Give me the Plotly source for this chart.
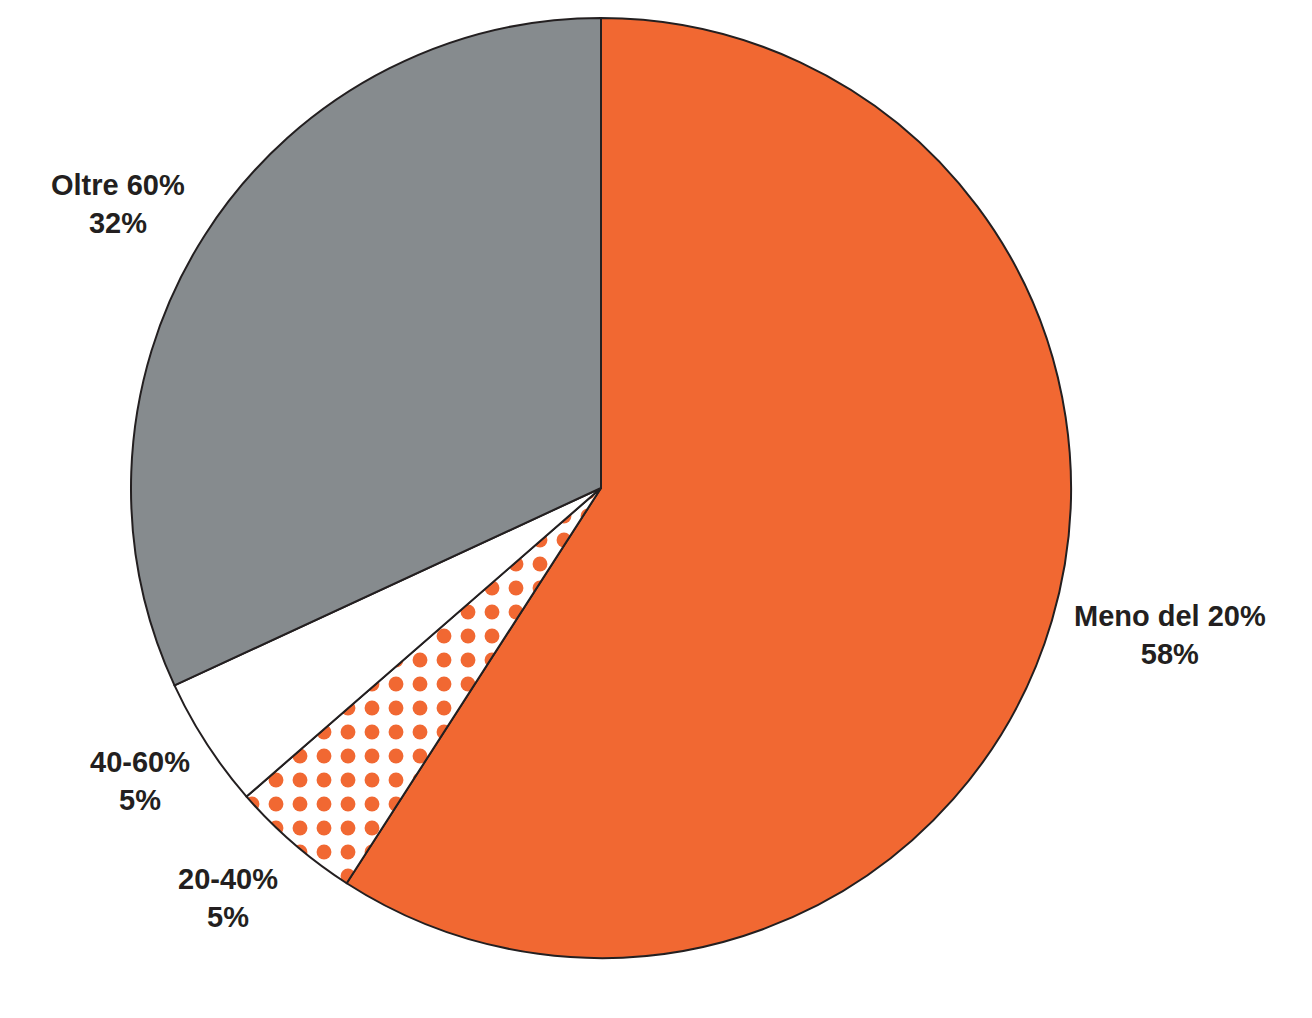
import math
import plotly.graph_objects as go

# Data
categories = ["Meno del 20%", "20-40%", "40-60%", "Oltre 60%"]
values = [59.1, 4.5, 4.5, 31.9]
pct_labels = ["58%", "5%", "5%", "32%"]

# Styles
ORANGE = "#F16832"
GRAY = "#868B8E"
WHITE = "#FFFFFF"
INK = "#231F20"
colors = [ORANGE, WHITE, WHITE, GRAY]
pattern_shapes = ["", ".", "", ""]
label_radius = [1.251, 1.18, 1.162, 1.192]
label_angle_offset = [-1.9, 1.4, 0.5, -2.1]

W, H = 1312, 1018
ML, MR, MT, MB = 0, 110, 18, 60
PW, PH = W - ML - MR, H - MT - MB
R = min(PW, PH) / 2

fig = go.Figure(go.Pie(
    labels=categories,
    values=values,
    sort=False,
    direction="clockwise",
    rotation=0,
    textinfo="none",
    hoverinfo="label+percent",
    marker=dict(
        colors=colors,
        line=dict(color=INK, width=2),
        pattern=dict(shape=pattern_shapes, fgcolor=ORANGE, bgcolor=WHITE,
                     fgopacity=1, size=24, solidity=0.3, fillmode="overlay"),
    ),
    showlegend=False,
))

total = sum(values)
cum = 0
annotations = []
for i, (cat, v, p) in enumerate(zip(categories, values, pct_labels)):
    mid = (cum + v / 2) / total * 2 * math.pi + math.radians(label_angle_offset[i])
    cum += v
    dx = math.sin(mid) * R * label_radius[i]
    dy = math.cos(mid) * R * label_radius[i]
    annotations.append(dict(
        x=0.5 + dx / PW, y=0.5 + dy / PH, xref="paper", yref="paper",
        text=f"<b>{cat}</b><br><b>{p}</b>", showarrow=False,
        xanchor="center", yanchor="middle",
        font=dict(family="Liberation Sans, Arial, sans-serif", size=29, color=INK),
    ))

fig.update_layout(
    width=W, height=H,
    margin=dict(l=ML, r=MR, t=MT, b=MB),
    paper_bgcolor="white", plot_bgcolor="white",
    annotations=annotations,
    font=dict(family="Liberation Sans, Arial, sans-serif", color=INK),
)

fig.write_html("out.html")
